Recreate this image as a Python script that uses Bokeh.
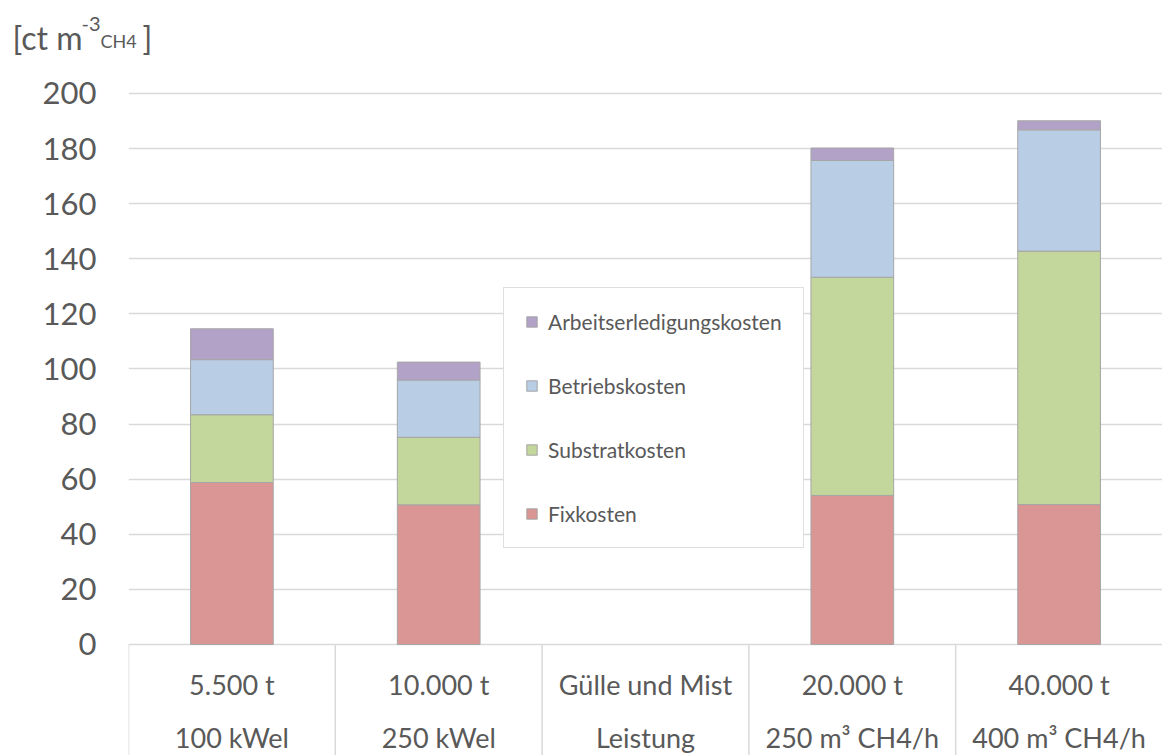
from bokeh.plotting import figure
from bokeh.layouts import column
from bokeh.models import (ColumnDataSource, FactorRange, Range1d, FixedTicker,
                          Legend, LegendItem)
from bokeh.transform import dodge
from bokeh.core.properties import value
from bokeh.embed import file_html
from bokeh.resources import INLINE

NAN = float("nan")

# ---------------- data ----------------
categories = ["5.500 t", "10.000 t", "Gülle und Mist", "20.000 t", "40.000 t"]
sublabels = ["100 kWel", "250 kWel", "Leistung", "250 m³ CH4/h", "400 m³ CH4/h"]

fixkosten = [58.8, 50.7, NAN, 54.1, 50.8]
substratkosten = [24.6, 24.5, NAN, 79.2, 92.0]
betriebskosten = [20.0, 20.8, NAN, 42.4, 44.0]
arbeitskosten = [11.2, 6.5, NAN, 4.5, 3.3]

series_names = ["Fixkosten", "Substratkosten", "Betriebskosten", "Arbeitserledigungskosten"]
series_colors = ["#D99694", "#C3D69B", "#B9CDE5", "#B3A2C7"]

y_ticks = [0, 20, 40, 60, 80, 100, 120, 140, 160, 180, 200]

unit_parts = ["[ct m", "-3", "CH4", "]"]

FONT = "Lato"
TXT = "#595959"
GRID = "#d9d9d9"

# ---------------- unit label strip (top) ----------------
TOP_H = 70
t = figure(width=1162, height=TOP_H, x_range=Range1d(0, 1162), y_range=Range1d(TOP_H, 0),
           output_backend="svg", toolbar_location=None,
           x_axis_location=None, y_axis_location=None, min_border=0)
t.frame_align = False
t.outline_line_color = None
t.grid.grid_line_color = None
unit_src = ColumnDataSource(dict(
    text=unit_parts,
    x=[12, 81, 100, 142],
    y=[37, 23, 40, 37],
    size=["32px", "20px", "18px", "32px"],
))
t.text(x="x", y="y", text="text", text_font_size="size", source=unit_src,
       text_font=value(FONT), text_color=TXT,
       text_align="left", text_baseline="alphabetic")

# ---------------- main chart ----------------
y_bottom = -40.3
p = figure(x_range=FactorRange(factors=categories, range_padding=0),
           y_range=Range1d(y_bottom, 200 + (93 - 70) / 2.755),
           width=1162, height=755 - TOP_H, output_backend="svg", toolbar_location=None,
           x_axis_location=None,
           min_border_left=128, min_border_right=0, min_border_top=0, min_border_bottom=0)
p.frame_align = False
p.outline_line_color = None
p.background_fill_color = "white"
p.border_fill_color = "white"

p.yaxis.ticker = FixedTicker(ticks=y_ticks)
p.yaxis.axis_line_color = None
p.yaxis.major_tick_line_color = None
p.yaxis.minor_tick_line_color = None
p.yaxis.major_tick_out = 0
p.yaxis.major_tick_in = 0
p.yaxis.major_label_standoff = 32
p.yaxis.major_label_text_font = FONT
p.yaxis.major_label_text_font_size = "31px"
p.yaxis.major_label_text_color = TXT

p.xgrid.grid_line_color = None
p.ygrid.ticker = FixedTicker(ticks=y_ticks)
p.ygrid.grid_line_color = GRID
p.ygrid.grid_line_width = 1.5

source = ColumnDataSource(dict(
    cat=categories, sub=sublabels,
    Fixkosten=fixkosten, Substratkosten=substratkosten,
    Betriebskosten=betriebskosten, Arbeitserledigungskosten=arbeitskosten,
    y0=[0] * len(categories), y1=[y_bottom] * len(categories),
))

renderers = p.vbar_stack(series_names, x="cat", width=0.4, fill_color=series_colors,
                         line_color="#a6a6a6", line_width=1, source=source)

# category "table" below zero
sep_x = dodge("cat", -0.5, range=p.x_range)
p.segment(x0=sep_x, y0="y0", x1=sep_x, y1="y1", source=source,
          line_color=GRID, line_width=1.5)
p.text(x="cat", y="y0", text="cat", source=source, y_offset=40,
       text_align="center", text_baseline="middle",
       text_font=value(FONT), text_font_size="27px", text_color=TXT)
p.text(x="cat", y="y0", text="sub", source=source, y_offset=93,
       text_align="center", text_baseline="middle",
       text_font=value(FONT), text_font_size="27px", text_color=TXT)

# legend (reversed order)
items = [LegendItem(label=n, renderers=[r]) for n, r in zip(series_names, renderers)][::-1]
legend = Legend(items=items, location=(375, 207), orientation="vertical",
                border_line_color="#bfbfbf", border_line_width=1,
                background_fill_color="white", background_fill_alpha=1,
                label_text_font=FONT, label_text_font_size="21px", label_text_color=TXT,
                glyph_width=13, glyph_height=13, label_height=20, label_standoff=10,
                spacing=39, padding=21, margin=0)
p.add_layout(legend)

layout = column(t, p, spacing=0)
open("out.html", "w").write(file_html(layout, INLINE))
